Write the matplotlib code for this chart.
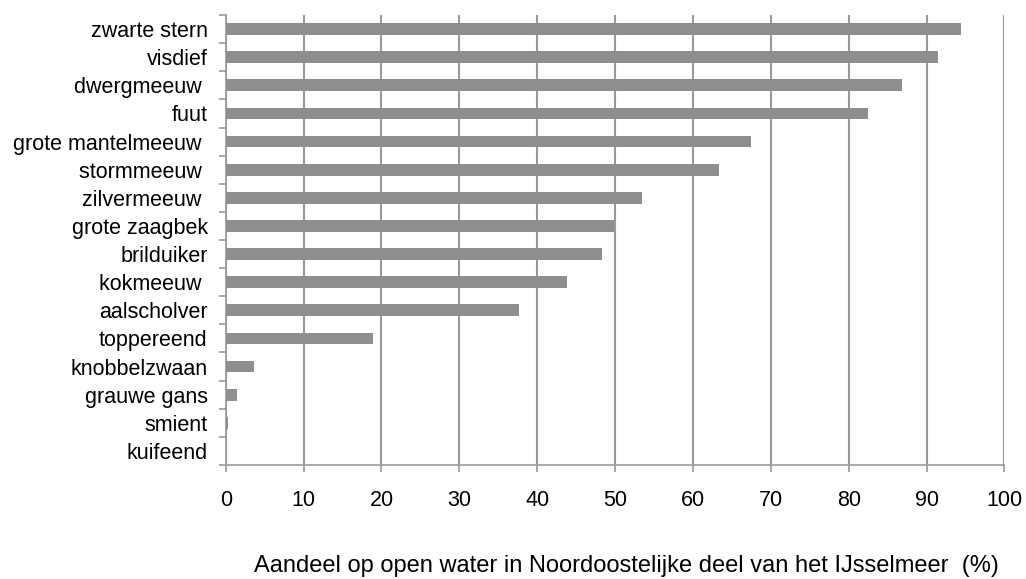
import numpy as np
import matplotlib.pyplot as plt

plt.rcParams['font.family'] = ['Liberation Sans', 'DejaVu Sans']

soorten = ["zwarte stern", "visdief", "dwergmeeuw ", "fuut", "grote mantelmeeuw ",
           "stormmeeuw ", "zilvermeeuw ", "grote zaagbek", "brilduiker", "kokmeeuw ",
           "aalscholver", "toppereend", "knobbelzwaan", "grauwe gans", "smient", "kuifeend"]
aandeel = [94.4, 91.5, 86.9, 82.5, 67.5, 63.4, 53.4, 49.8, 48.3, 43.8,
           37.7, 18.9, 3.6, 1.5, 0.3, 0.1]

fig = plt.figure(figsize=(10.26, 5.79), dpi=100)
ax = fig.add_axes([0.220, 0.197, 0.759, 0.777])

ypos = np.arange(len(soorten))[::-1]
ax.barh(ypos, aandeel, height=0.42, color='#8e8e8e', zorder=3)

ax.set_xlim(0, 100)
ax.set_ylim(-0.5, len(soorten) - 0.5)
ax.set_xticks(np.arange(0, 101, 10))
ax.set_yticks(ypos)
ax.set_yticklabels(soorten, fontsize=15.5)
ax.set_yticks(np.arange(-0.5, len(soorten), 1), minor=True)
ax.tick_params(axis='y', which='major', length=0, pad=13)
ax.tick_params(axis='y', which='minor', length=5, color='#999999', width=1.2)
ax.tick_params(axis='x', length=5, color='#999999', width=1.2, labelsize=15.5, pad=13)

ax.grid(axis='x', color='#999999', lw=1.5, zorder=0)
for s in ['top', 'right']:
    ax.spines[s].set_visible(False)
for s in ['left', 'bottom']:
    ax.spines[s].set_color('#999999')
    ax.spines[s].set_linewidth(1.2)

ax.set_xlabel('Aandeel op open water in Noordoostelijke deel van het IJsselmeer  (%)',
              fontsize=17, labelpad=33)
ax.xaxis.set_label_coords(0.515, -0.2)

fig.savefig("out.png", dpi=100)
